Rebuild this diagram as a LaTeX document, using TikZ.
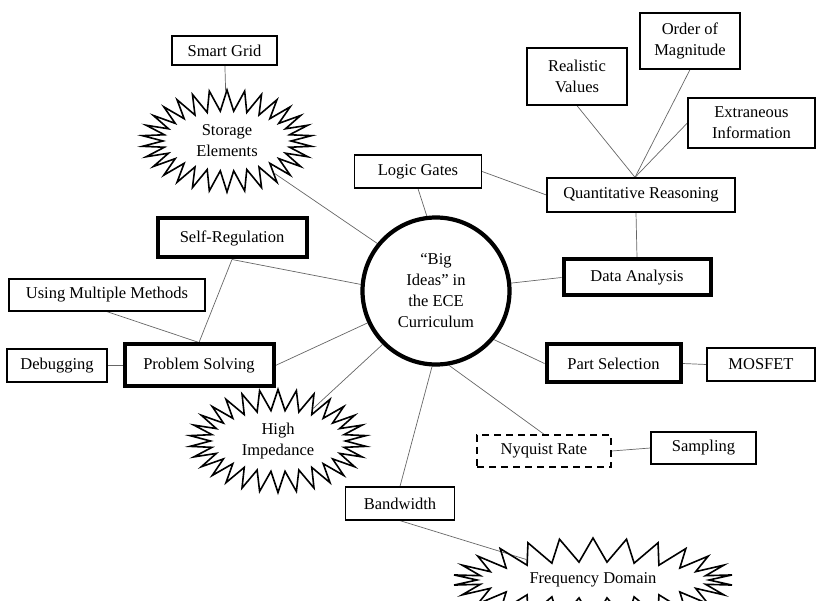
\documentclass[tikz,border=0pt]{standalone}
\usepackage{fontspec}
\setmainfont{Liberation Serif}
\usetikzlibrary{shapes.symbols,backgrounds}
\tikzset{
  txt/.style={font=\fontsize{16.5}{21}\selectfont, align=center, inner sep=1pt},
  box/.style={txt, draw, line width=1.3pt},
  bigbox/.style={box, line width=4pt},
  dashbox/.style={box, dash pattern=on 7pt off 5pt, line width=1.5pt},
  burst/.style={txt, starburst, draw, line width=1.6pt, random starburst=0,
    starburst points=30, starburst point height=21pt},
  hub/.style={txt, circle, draw, line width=4.2pt, minimum size=147pt},
  link/.style={draw=black!60, line width=0.7pt}
}
\begin{document}
\begin{tikzpicture}[x=1pt,y=-1pt]
\useasboundingbox (0,0) rectangle (817,601);
\node[hub] (hub) at (436,291) {``Big\\Ideas'' in\\the ECE\\Curriculum};
\node[box, minimum width=105pt, minimum height=29pt] (grid) at (224.5,50.5) {Smart Grid};
\node[burst, minimum width=170pt, minimum height=102pt] (storage) at (227,141) {Storage\\Elements};
\node[box, minimum width=127pt, minimum height=33pt] (logic) at (418,171.5) {Logic Gates};
\node[box, minimum width=188pt, minimum height=34pt] (quant) at (641,195) {Quantitative Reasoning};
\node[box, minimum width=100pt, minimum height=57pt] (real) at (577,76.5) {Realistic\\Values};
\node[box, minimum width=100pt, minimum height=56pt] (order) at (690,41) {Order of\\Magnitude};
\node[box, minimum width=127pt, minimum height=50pt] (extra) at (751.5,123) {Extraneous\\Information};
\node[bigbox, minimum width=147pt, minimum height=36pt] (data) at (637,277.5) {Data Analysis};
\node[bigbox, minimum width=149pt, minimum height=39pt] (selfreg) at (232,238) {Self-Regulation};
\node[box, minimum width=196pt, minimum height=32pt] (multi) at (107,295) {Using Multiple Methods};
\node[box, minimum width=100pt, minimum height=33pt] (debug) at (57,365.5) {Debugging};
\node[bigbox, minimum width=149pt, minimum height=42pt] (solve) at (199,365.5) {Problem Solving};
\node[burst, minimum width=177pt, minimum height=103pt] (imped) at (278,441) {High\\Impedance};
\node[box, minimum width=109pt, minimum height=33pt] (band) at (400,503.5) {Bandwidth};
\node[burst, minimum width=280pt, minimum height=84pt, starburst points=26,
  starburst point height=24pt] (freq) at (593,580) {Frequency Domain};
\node[dashbox, minimum width=134pt, minimum height=32pt] (nyq) at (544,451) {Nyquist Rate};
\node[box, minimum width=105pt, minimum height=32pt] (samp) at (703.5,448) {Sampling};
\node[bigbox, minimum width=134pt, minimum height=38pt] (part) at (613.5,363.5) {Part Selection};
\node[box, minimum width=108pt, minimum height=33pt] (mos) at (761,364.5) {MOSFET};
\begin{scope}[on background layer]
\draw[link] (grid) -- (storage);
\draw[link] (storage) -- (hub.141);
\draw[link] (logic.south) -- (hub.97);
\draw[link] (logic.east) -- (quant.west);
\draw[link] (real.south) -- ([xshift=-6pt]quant.north);
\draw[link] (order.south) -- ([xshift=-6pt]quant.north);
\draw[link] (extra.west) -- ([xshift=-6pt]quant.north);
\draw[link] ([xshift=-5pt]quant.south) -- (data.north);
\draw[link] (hub.6) -- (data.west);
\draw[link] (selfreg.south) -- (hub.175);
\draw[link] (selfreg.south) -- (solve.north);
\draw[link] (multi.south) -- (solve.north);
\draw[link] (debug.east) -- (solve.west);
\draw[link] (solve.east) -- (hub.205);
\draw[link] (hub.225) -- (imped);
\draw[link] (hub.-93) -- (band.north);
\draw[link] (band.south) -- (freq);
\draw[link] (hub.-80) -- (nyq.north);
\draw[link] (nyq.east) -- (samp.west);
\draw[link] (hub.-40) -- (part.west);
\draw[link] (part.east) -- (mos.west);
\end{scope}
\end{tikzpicture}
\end{document}
